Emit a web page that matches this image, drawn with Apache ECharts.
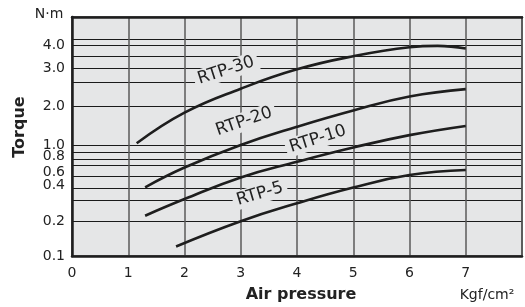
<!DOCTYPE html>
<html>
<head>
<meta charset="utf-8">
<script src="https://cdn.jsdelivr.net/npm/echarts@6.0.0/dist/echarts.min.js"></script>
<style>
html, body { margin: 0; padding: 0; background: #fff; }
#chart { width: 525px; height: 307px; }
</style>
</head>
<body>
<div id="chart"></div>
<script>
// torque (N·m) against air pressure (Kgf/cm²)
const rtp30Pressure = [1.15, 2, 3, 4, 5, 6, 6.5, 7]
const rtp30Torque = [1.04, 1.78, 2.36, 2.96, 3.49, 3.91, 3.98, 3.85]
const rtp20Pressure = [1.3, 2, 3, 4, 5, 6, 7]
const rtp20Torque = [0.408, 0.577, 1.01, 1.39, 1.85, 2.19, 2.35]
const rtp10Pressure = [1.3, 2, 3, 4, 5, 6, 7]
const rtp10Torque = [0.223, 0.307, 0.493, 0.655, 0.94, 1.20, 1.41]
const rtp5Pressure = [1.85, 3, 4, 5, 6, 7]
const rtp5Torque = [0.121, 0.201, 0.282, 0.406, 0.513, 0.555]

const seriesNames = ['RTP-30', 'RTP-20', 'RTP-10', 'RTP-5']
const xTickLabels = ['0', '1', '2', '3', '4', '5', '6', '7']
const yTickLabels = ['0.1', '0.2', '0.4', '0.6', '0.8', '1.0', '2.0', '3.0', '4.0']

// the original torque axis is hand drawn and uneven: each grid value and the
// height it sits at (plot is 239 units tall); in between it runs logarithmic
const scaleValues = [0.1, 0.2, 0.3, 0.4, 0.5, 0.6, 0.7, 0.8, 1.0, 2.0, 2.5, 3.0, 3.5, 4.0, 4.5]
const scaleHeights = [0, 34.5, 56, 67.7, 79.3, 91, 96.7, 103.3, 110.5, 150, 173.3, 187.7, 200, 210.5, 216.7]
const plotHeight = 239
// tick labels are packed a little apart from their lines near 0.4-0.8
const yLabelHeights = [0, 35, 71, 84, 99.3, 110.5, 150, 187.7, 210.5]

// where the curve names sit: [pressure, torque, angle]
const nameSpots = [[2.74, 2.92, 18], [3.06, 1.52, 19], [4.37, 1.12, 17.5], [3.34, 0.347, 16.5]]

const plotBg = '#e5e6e7'
const ink = '#1e1e1e'
const font = 'DejaVu Sans'

function toLevel(t) {
    let i = 0
    while (i < scaleValues.length - 2 && t > scaleValues[i + 1]) i++
    const a = Math.log10(scaleValues[i]), b = Math.log10(scaleValues[i + 1])
    return scaleHeights[i] + (Math.log10(t) - a) / (b - a) * (scaleHeights[i + 1] - scaleHeights[i])
}

function pairs(xs, ts) {
    return xs.map((x, i) => [x, toLevel(ts[i])])
}

const curves = [
    pairs(rtp30Pressure, rtp30Torque),
    pairs(rtp20Pressure, rtp20Torque),
    pairs(rtp10Pressure, rtp10Torque),
    pairs(rtp5Pressure, rtp5Torque)
]

let chart = echarts.init(document.getElementById('chart'), null, { renderer: 'canvas' })

let option = {
    animation: false,
    textStyle: { fontFamily: font },
    grid: {
        left: 72, right: 1, top: 17, bottom: 51,
        show: true,
        backgroundColor: plotBg,
        borderColor: '#6a6a6a',
        borderWidth: 2
    },
    xAxis: [
        {
            type: 'value',
            min: 0,
            max: 8,
            interval: 1,
            axisLine: { show: true, lineStyle: { color: ink, width: 2.5 } },
            axisTick: { show: false },
            splitLine: { show: true, lineStyle: { color: '#5a5a5a', width: 1.5 } },
            axisLabel: {
                margin: 10,
                fontSize: 14,
                color: '#222',
                fontFamily: font,
                formatter: v => xTickLabels[v] || ''
            }
        },
        {
            type: 'value',
            position: 'top',
            min: 0,
            max: 8,
            axisLine: { show: true, lineStyle: { color: ink, width: 2.5 } },
            axisTick: { show: false },
            axisLabel: { show: false },
            splitLine: { show: false }
        }
    ],
    yAxis: {
        type: 'value',
        min: 0,
        max: plotHeight,
        axisLine: { show: true, lineStyle: { color: ink, width: 2.5 } },
        axisTick: { show: false, customValues: scaleHeights.slice(1) },
        splitLine: { show: true, lineStyle: { color: '#1a1a1a', width: 1 } },
        axisLabel: {
            customValues: yLabelHeights,
            margin: 7,
            fontSize: 14,
            color: '#222',
            fontFamily: font,
            formatter: v => {
                let best = 0
                yLabelHeights.forEach((h, i) => {
                    if (Math.abs(h - v) < Math.abs(yLabelHeights[best] - v)) best = i
                })
                return yTickLabels[best]
            }
        }
    },
    series: curves.map((data, i) => ({
        name: seriesNames[i],
        type: 'line',
        smooth: 0.45,
        symbol: 'none',
        data: data,
        lineStyle: { color: ink, width: 2.6 },
        markPoint: {
            silent: true,
            symbol: 'circle',
            symbolSize: 1,
            itemStyle: { color: 'rgba(0,0,0,0)' },
            data: [{ coord: [nameSpots[i][0], toLevel(nameSpots[i][1])] }],
            label: {
                show: true,
                position: 'inside',
                formatter: seriesNames[i],
                rotate: nameSpots[i][2],
                fontSize: 17,
                fontFamily: font,
                color: '#222',
                backgroundColor: plotBg,
                padding: [1, 4]
            }
        }
    })),
    graphic: [
        {
            type: 'text', x: 49, y: 14,
            style: { text: 'N·m', fontSize: 14, fontFamily: font, fill: '#222', align: 'center', verticalAlign: 'middle' }
        },
        {
            type: 'text', x: 20, y: 127, rotation: Math.PI / 2,
            style: { text: 'Torque', fontSize: 16, fontWeight: 'bold', fontFamily: font, fill: '#222', align: 'center', verticalAlign: 'middle' }
        },
        {
            type: 'text', x: 301, y: 295,
            style: { text: 'Air pressure', fontSize: 16, fontWeight: 'bold', fontFamily: font, fill: '#222', align: 'center', verticalAlign: 'middle' }
        },
        {
            type: 'text', x: 487, y: 295,
            style: { text: 'Kgf/cm²', fontSize: 14, fontFamily: font, fill: '#222', align: 'center', verticalAlign: 'middle' }
        }
    ]
}
chart.setOption(option)
</script>
</body>
</html>
